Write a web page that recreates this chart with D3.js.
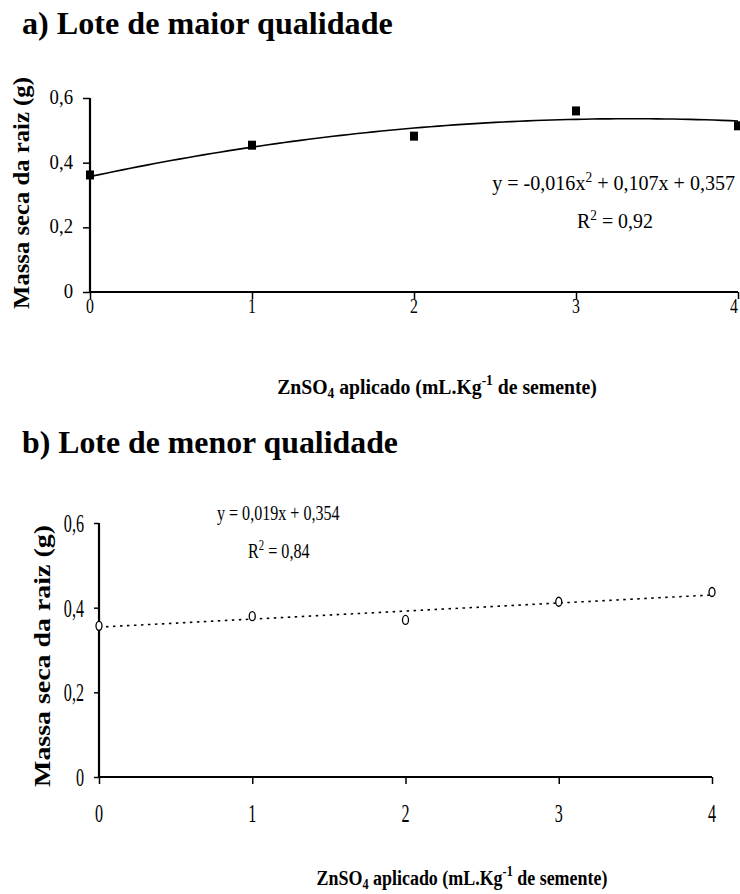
<!DOCTYPE html>
<html>
<head>
<meta charset="utf-8">
<script src="https://cdn.jsdelivr.net/npm/d3@7"></script>
<style>
  html, body { margin: 0; padding: 0; background: #fff; }
  svg { display: block; }
</style>
</head>
<body>
<svg id="chart" width="740" height="894"></svg>
<script>
// ---------- data ----------
const doses = [0, 1, 2, 3, 4];
const massaMaior = [0.362, 0.454, 0.482, 0.560, 0.514];
const massaMenor = [0.357, 0.380, 0.371, 0.414, 0.437];
const yTicks = [0, 0.2, 0.4, 0.6];
const yTickLabels = ["0", "0,2", "0,4", "0,6"];
const xTickLabels = ["0", "1", "2", "3", "4"];
const coefMaior = [-0.016, 0.107, 0.357]; // a x^2 + b x + c
const coefMenor = [0.019, 0.354];          // a x + b
const titles = ["a) Lote de maior qualidade", "b) Lote de menor qualidade"];
const eqMaior = ["y = -0,016x", "2", " + 0,107x + 0,357"];
const r2Maior = "0,92";
const eqMenor = "y = 0,019x + 0,354";
const r2Menor = "0,84";
const yTitle = "Massa seca da raiz (g)";

const svg = d3.select("#chart");
const SERIF = "'Liberation Serif', 'Times New Roman', serif";

function fitWidth(t, ax, w) {
  const bb = t.node().getBBox();
  if (!bb.width) return;
  const s = w / bb.width;
  t.attr("transform", `translate(${ax},0) scale(${s},1) translate(${-ax},0)`);
}
function fitScale(t, ax, s) {
  t.attr("transform", `translate(${ax},0) scale(${s},1) translate(${-ax},0)`);
}

function panel(cfg) {
  const g = svg.append("g");
  const x = d3.scaleLinear().domain([0, 4]).range(cfg.xr);
  const y = d3.scaleLinear().domain([0, 0.6]).range(cfg.yr);

  const tt = g.append("text").attr("x", 22).attr("y", cfg.titleY)
    .attr("font-family", SERIF).attr("font-weight", "bold").attr("font-size", 32)
    .text(cfg.title);
  fitWidth(tt, 22, cfg.titleW);

  const ya = g.append("g").attr("transform", `translate(${x(0)},0)`)
    .call(d3.axisLeft(y).tickValues(yTicks).tickSize(cfg.yTickLen).tickFormat(""));
  ya.select(".domain").attr("d", `M0,${y(0.6)}V${y(0)}`).attr("stroke", "#000").attr("stroke-width", 2.2);
  ya.selectAll(".tick line").attr("stroke", "#000").attr("stroke-width", 1.5);
  const xa = g.append("g").attr("transform", `translate(0,${y(0)})`)
    .call(d3.axisBottom(x).tickValues(doses).tickSize(cfg.xTickLen).tickFormat(""));
  xa.select(".domain").attr("d", `M${x(0)},0H${x(4)}`).attr("stroke", "#000").attr("stroke-width", 2.2);
  xa.selectAll(".tick line").attr("stroke", "#000").attr("stroke-width", 1.5);

  yTicks.forEach((v, i) => {
    const t = g.append("text").attr("x", cfg.yLabX).attr("y", y(v) + cfg.yLabDy)
      .attr("text-anchor", "end").attr("font-family", SERIF)
      .attr("font-size", cfg.tickSize).text(yTickLabels[i]);
    fitScale(t, cfg.yLabX, cfg.yTickScale);
  });
  doses.forEach((v, i) => {
    const px = Math.min(x(v), cfg.xLabMax);
    const t = g.append("text").attr("x", px).attr("y", cfg.xLabY)
      .attr("text-anchor", "middle").attr("font-family", SERIF)
      .attr("font-size", cfg.tickSize).text(xTickLabels[i]);
    fitScale(t, px, cfg.xTickScale);
  });

  const yt = g.append("text")
    .attr("transform", `translate(${cfg.yTitleX},${cfg.yTitleY}) rotate(-90)`)
    .attr("text-anchor", "middle").attr("font-family", SERIF)
    .attr("font-weight", "bold").attr("font-size", 23).text(yTitle);
  const ybb = yt.node().getBBox();
  yt.attr("transform", `translate(${cfg.yTitleX},${cfg.yTitleY}) rotate(-90) scale(${cfg.yTitleW / ybb.width},1)`);

  const xt = g.append("text").attr("x", cfg.xTitleX).attr("y", cfg.xTitleY)
    .attr("text-anchor", "middle").attr("font-family", SERIF)
    .attr("font-weight", "bold").attr("font-size", 22);
  xt.append("tspan").text("ZnSO");
  xt.append("tspan").attr("font-size", 15).attr("dy", 4).text("4");
  xt.append("tspan").attr("dy", -4).text(" aplicado (mL.Kg");
  xt.append("tspan").attr("font-size", 15).attr("dy", -9).text("-1");
  xt.append("tspan").attr("dy", 9).text(" de semente)");
  fitWidth(xt, cfg.xTitleX, cfg.xTitleW);

  return { g, x, y };
}

// ---------- panel a ----------
const A = panel({
  title: titles[0], titleY: 34, titleW: 371,
  xr: [90, 738], yr: [292, 98],
  yTickLen: 7, xTickLen: 7,
  yLabX: 73, yLabDy: 6, xLabY: 313, xLabMax: 734, tickSize: 22, yTickScale: 0.85, xTickScale: 0.72,
  yTitleX: 29, yTitleY: 193, yTitleW: 232,
  xTitleX: 437, xTitleY: 394, xTitleW: 320
});
{
  const xs = d3.range(0, 4.0001, 0.05);
  const line = d3.line().x(d => A.x(d)).y(d => A.y(coefMaior[0] * d * d + coefMaior[1] * d + coefMaior[2]));
  A.g.append("path").attr("d", line(xs)).attr("fill", "none").attr("stroke", "#000").attr("stroke-width", 1.6);
  A.g.selectAll("rect.pt").data(doses).enter().append("rect")
    .attr("x", d => A.x(d) - 4).attr("y", (d, i) => A.y(massaMaior[i]) - 4.5)
    .attr("width", 8).attr("height", 9).attr("fill", "#000");

  const eq = A.g.append("text").attr("x", 735).attr("y", 190).attr("text-anchor", "end")
    .attr("font-family", SERIF).attr("font-size", 21);
  eq.append("tspan").text(eqMaior[0]);
  eq.append("tspan").attr("font-size", 14).attr("dy", -8).text(eqMaior[1]);
  eq.append("tspan").attr("dy", 8).text(eqMaior[2]);
  fitWidth(eq, 735, 243);
  const r2 = A.g.append("text").attr("x", 615).attr("y", 228).attr("text-anchor", "middle")
    .attr("font-family", SERIF).attr("font-size", 21);
  r2.append("tspan").text("R");
  r2.append("tspan").attr("font-size", 14).attr("dy", -8).text("2");
  r2.append("tspan").attr("dy", 8).text(" = " + r2Maior);
  fitWidth(r2, 615, 76);
}

// ---------- panel b ----------
const B = panel({
  title: titles[1], titleY: 453, titleW: 376,
  xr: [99, 712], yr: [777, 523],
  yTickLen: 5, xTickLen: 7,
  yLabX: 84, yLabDy: 9, xLabY: 822, xLabMax: 740, tickSize: 26, yTickScale: 0.62, xTickScale: 0.62,
  yTitleX: 50, yTitleY: 656, yTitleW: 262,
  xTitleX: 462, xTitleY: 885, xTitleW: 291
});
{
  const xs = [0, 4];
  const line = d3.line().x(d => B.x(d)).y(d => B.y(coefMenor[0] * d + coefMenor[1]));
  B.g.append("path").attr("d", line(xs)).attr("fill", "none").attr("stroke", "#000")
    .attr("stroke-width", 1.6).attr("stroke-dasharray", "2.5,4.5");
  B.g.selectAll("ellipse.pt").data(doses).enter().append("ellipse")
    .attr("cx", d => B.x(d)).attr("cy", (d, i) => B.y(massaMenor[i]))
    .attr("rx", 3).attr("ry", 4.5).attr("fill", "#fff").attr("stroke", "#000").attr("stroke-width", 1.3);

  const eq = B.g.append("text").attr("x", 217).attr("y", 520)
    .attr("font-family", SERIF).attr("font-size", 21).text(eqMenor);
  fitWidth(eq, 217, 123);
  const r2 = B.g.append("text").attr("x", 248).attr("y", 558)
    .attr("font-family", SERIF).attr("font-size", 21);
  r2.append("tspan").text("R");
  r2.append("tspan").attr("font-size", 14).attr("dy", -8).text("2");
  r2.append("tspan").attr("dy", 8).text(" = " + r2Menor);
  fitWidth(r2, 248, 62);
}
</script>
</body>
</html>
